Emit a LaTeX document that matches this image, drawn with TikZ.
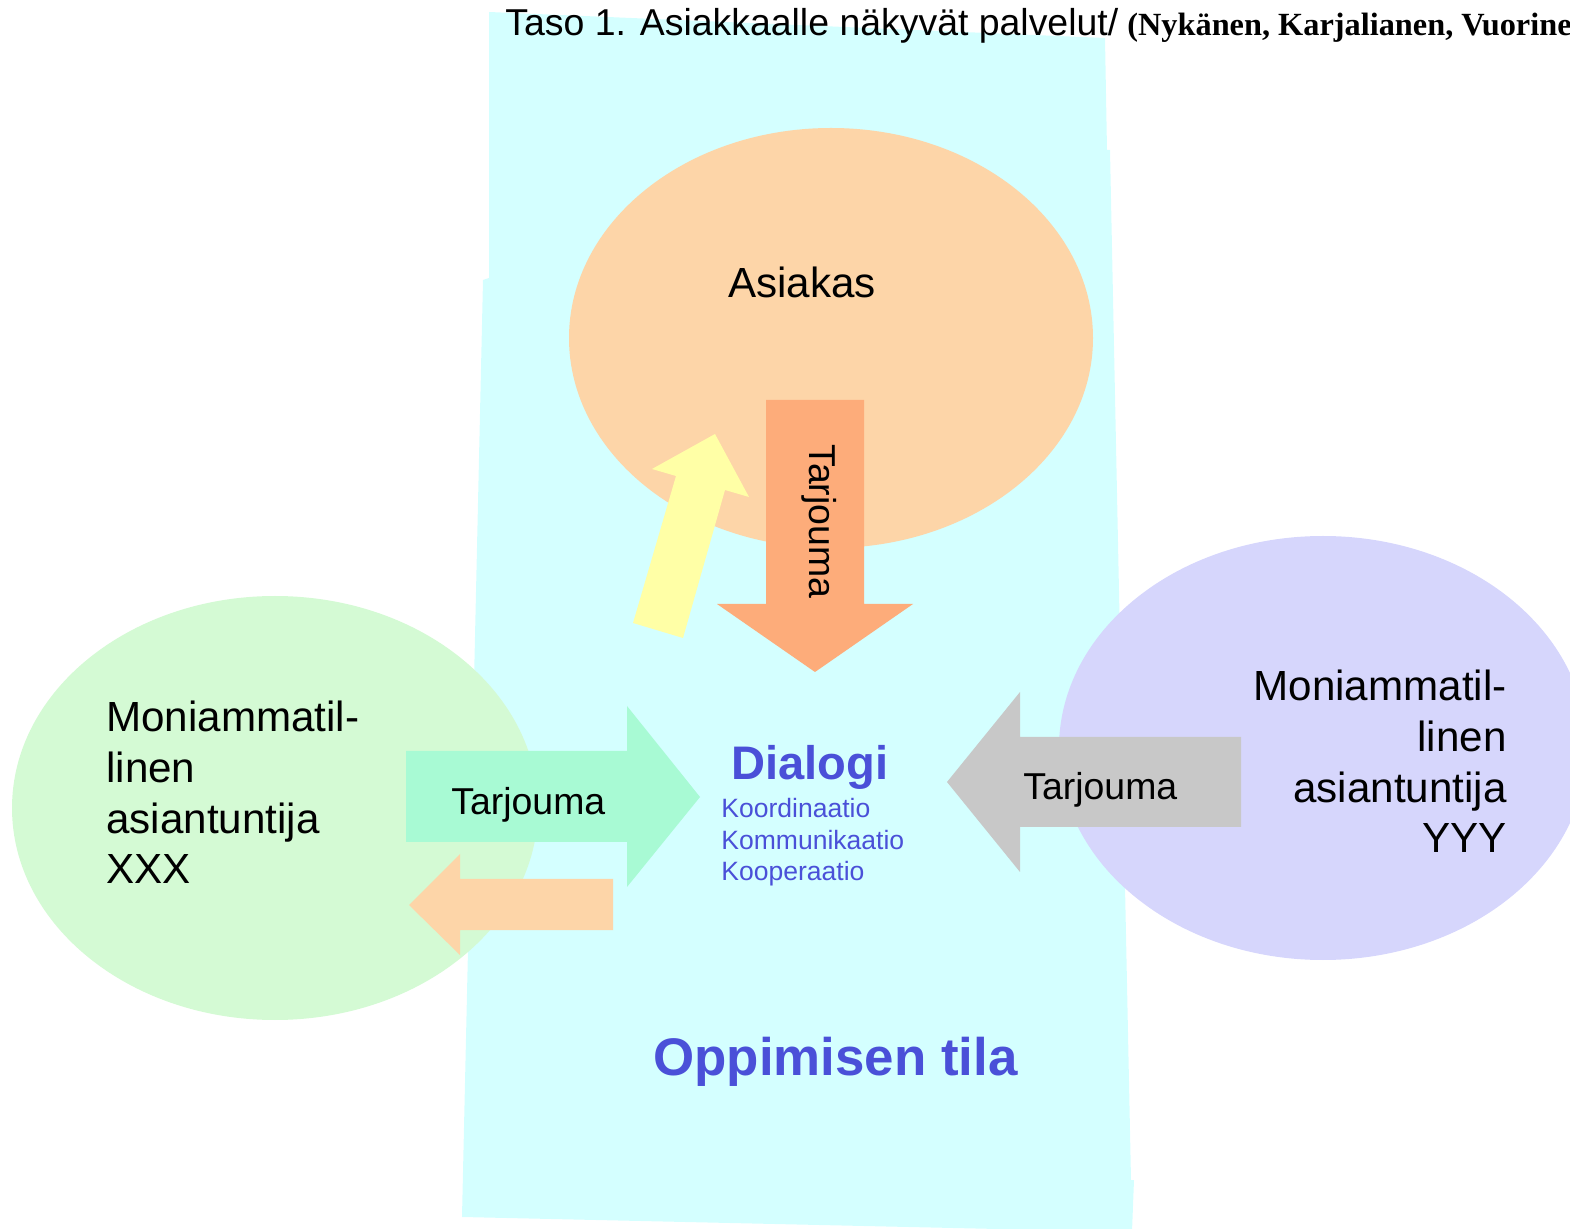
\documentclass[tikz,border=0pt]{standalone}
\usepackage{fontspec}
\setmainfont{Liberation Sans}
\newfontfamily\timesfont{Liberation Serif}

\definecolor{roomcyan}{RGB}{212,255,255}
\definecolor{clientorange}{RGB}{253,213,168}
\definecolor{offerorange}{RGB}{253,172,122}
\definecolor{feedyellow}{RGB}{255,255,166}
\definecolor{xxxgreen}{RGB}{212,250,212}
\definecolor{offergreen}{RGB}{168,250,212}
\definecolor{yyylilac}{RGB}{214,214,252}
\definecolor{offergray}{RGB}{200,200,200}
\definecolor{dialogblue}{RGB}{74,80,216}

\begin{document}
\begin{tikzpicture}[x=0.02cm,y=-0.02cm]
    		\newcommand{\bigsize}{\fontsize{24}{28.9}\selectfont}
    		\newcommand{\offersize}{\fontsize{21.3}{25.6}\selectfont}
    		
    		% set the style of the texts
    		\tikzset{
    			txt/.style={
    				inner sep=0pt,
    				font=\bigsize
    				},
    			offertxt/.style={
    				inner sep=0pt,
    				font=\offersize
    				},
    			bluetxt/.style={
    				inner sep=0pt,
    				text=dialogblue
    				}
    		}
    		
    		\clip (0,0) rectangle (1570,1229);
    	
    		% learning room
    		\fill[roomcyan] (489,12) -- (1105,38) -- (1107,150) -- (1110,150) -- (1131,1180)
    			-- (1134,1180) -- (1132,1232) -- (462,1217) -- (483,280) -- (489,278) -- cycle;
    		
    		% actors
    		\fill[clientorange] (831,338) ellipse [x radius=262, y radius=210];
    		\fill[xxxgreen] (275,808) ellipse [x radius=263, y radius=212];
    		\fill[yyylilac] (1323,748) ellipse [x radius=264, y radius=212];
    		
    		% offers
    		\fill[offerorange] (766,400) -- (864,400) -- (864,604) -- (913,604) -- (815,672) -- (717,604) -- (766,604) -- cycle;
    		\fill[feedyellow] (633,623) -- (676,476) -- (652,469) -- (715,434) -- (749,497) -- (725,490) -- (683,638) -- cycle;
    		\fill[offergreen] (406,751) -- (627,751) -- (627,706) -- (700,797) -- (627,887) -- (627,842) -- (406,842) -- cycle;
    		\fill[clientorange] (613,879) -- (460,879) -- (460,854) -- (409,905) -- (460,955) -- (460,930) -- (613,930) -- cycle;
    		\fill[offergray] (1241,737) -- (1020,737) -- (1020,692) -- (947,782) -- (1020,872) -- (1020,827) -- (1241,827) -- cycle;
    		
    		% texts (multi-line nodes sit on their last line)
    		\node[inner sep=0pt, anchor=base west, font=\fontsize{21.3}{25.6}\selectfont] (title) at (505,36) {Taso 1. Asiakkaalle näkyvät palvelut/};
    		\node[inner sep=0pt, anchor=base west, font=\timesfont\bfseries\fontsize{18.4}{22}\selectfont] (source) at (1127,36) {(Nykänen, Karjalianen, Vuorine};
    		\node[txt, anchor=base] (asiakas) at (802,298) {Asiakas};
    		\node[txt, anchor=base west, align=left] (xxx) at (106,884) {Moniammatil-\\linen\\asiantuntija\\XXX};
    		\node[txt, anchor=base east, align=right] (yyy) at (1507,853) {Moniammatil-\\linen\\asiantuntija\\YYY};
    		\node[offertxt, anchor=base west, rotate=-90] (offerdown) at (809,444) {Tarjouma};
    		\node[offertxt, anchor=base west] (offerleft) at (451,815) {Tarjouma};
    		\node[offertxt, anchor=base west] (offerright) at (1023,800) {Tarjouma};
    		\node[bluetxt, anchor=base west, font=\bfseries\fontsize{26.8}{32}\selectfont] (dialogi) at (731,780) {Dialogi};
    		\node[bluetxt, anchor=base west, align=left, font=\fontsize{15.1}{18.1}\selectfont] (modes) at (721,881) {Koordinaatio\\Kommunikaatio\\Kooperaatio};
    		\node[bluetxt, anchor=base west, font=\bfseries\fontsize{30.1}{36}\selectfont] (tila) at (653,1075) {Oppimisen tila};
    		      
\end{tikzpicture}
\end{document}
